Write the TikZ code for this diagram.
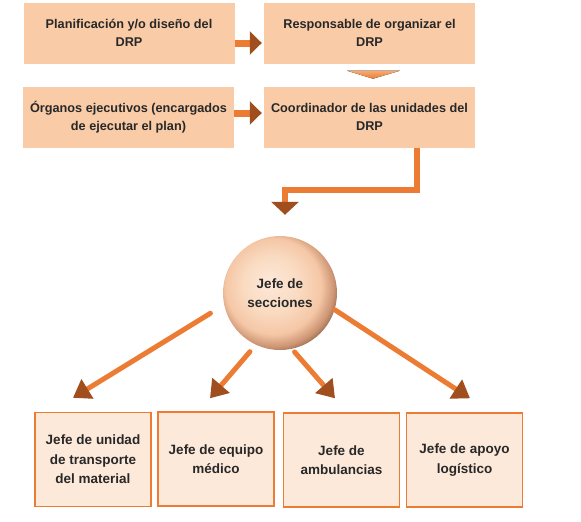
\documentclass[tikz,border=0pt]{standalone}
\usepackage{fontspec}
\setmainfont{Liberation Sans}
\usetikzlibrary{arrows.meta,shadings}
\definecolor{boxfill}{RGB}{249,203,166}
\definecolor{leaffill}{RGB}{253,233,218}
\definecolor{linecol}{RGB}{236,124,52}
\definecolor{headcol}{RGB}{160,78,30}
\definecolor{txtcol}{RGB}{40,40,40}
\definecolor{chevtop}{RGB}{246,170,115}
\pgfdeclareradialshading{softball}{\pgfpoint{-5bp}{5bp}}{%
  rgb(0bp)=(0.99,0.91,0.85);
  rgb(12bp)=(0.98,0.86,0.76);
  rgb(21bp)=(0.96,0.78,0.65);
  rgb(26bp)=(0.80,0.58,0.45);
  rgb(31bp)=(0.38,0.27,0.21);
  rgb(50bp)=(0.30,0.22,0.18)}
\begin{document}
\begin{tikzpicture}[x=1pt,y=-1pt,
    topbox/.style={fill=boxfill,minimum width=211pt,minimum height=61pt,inner sep=0pt,
      align=center,text=txtcol,font=\bfseries\fontsize{12.7}{18.5}\selectfont},
    leafbox/.style={draw=linecol,line width=1.4pt,fill=leaffill,minimum width=116pt,
      minimum height=94pt,inner sep=0pt,align=center,text=txtcol,
      font=\bfseries\fontsize{13.5}{19.5}\selectfont},
    sidearrow/.style={draw=linecol,line width=7pt,shorten >=2pt,
      -{Triangle[width=23pt,length=12pt,color=headcol]}},
    elbowarrow/.style={draw=linecol,line width=6pt,
      -{Triangle[width=27pt,length=13pt,color=headcol]}},
    fanarrow/.style={draw=linecol,line width=5pt,line cap=round,
      -{Triangle[width=22pt,length=17pt,color=headcol]}},
    chevron/.style={top color=chevtop,bottom color=linecol}]
  \useasboundingbox (0,0) rectangle (581,522);
  % top rows
  \node[topbox] (plan) at (129,33) {Planificación y/o diseño del\\DRP};
  \node[topbox] (resp) at (369.5,33) {Responsable de organizar el\\DRP};
  \node[topbox] (org) at (128.5,117) {Órganos ejecutivos (encargados\\de ejecutar el plan)};
  \node[topbox] (coordu) at (369.5,117) {Coordinador de las unidades del\\DRP};
  % circle
  \node[circle,minimum size=114pt,inner sep=0pt,shading=softball,
    align=center,text=txtcol,font=\bfseries\fontsize{13.5}{19.5}\selectfont]
    (jefe) at (280,293) {Jefe de\\secciones};
  % bottom row
  \node[leafbox] (transp) at (93,459.5) {Jefe de unidad\\de transporte\\del material};
  \node[leafbox] (medico) at (216,459) {Jefe de equipo\\médico};
  \node[leafbox] (ambul) at (341.5,460) {Jefe de\\ambulancias};
  \node[leafbox] (apoyo) at (464.5,460) {Jefe de apoyo\\logístico};
  % arrows
  \draw[sidearrow] ([yshift=-10pt]plan.east) -- ([yshift=-10pt]resp.west);
  \draw[sidearrow] ([yshift=4pt]org.east) -- ([yshift=4pt]coordu.west);
  \fill[chevron] ([xshift=-22.5pt,yshift=-7pt]resp.south) -- ([xshift=30.5pt,yshift=-7pt]resp.south)
    -- ([xshift=3.5pt,yshift=-15pt]resp.south) -- cycle;
  \draw[elbowarrow] ([xshift=47.5pt]coordu.south) -- ++(0,42) -| ([xshift=5pt,yshift=21pt]jefe.north);
  \draw[fanarrow,shorten <=16pt] (jefe.192) -- ([xshift=-20pt,yshift=14pt]transp.north);
  \draw[fanarrow,shorten <=9pt] (jefe.245) -- ([xshift=-6pt,yshift=13pt]medico.north);
  \draw[fanarrow,shorten <=4pt] (jefe.282) -- ([xshift=-6.5pt,yshift=14pt]ambul.north);
  \draw[fanarrow] (jefe.343) -- ([xshift=5.5pt,yshift=14pt]apoyo.north);
\end{tikzpicture}
\end{document}
